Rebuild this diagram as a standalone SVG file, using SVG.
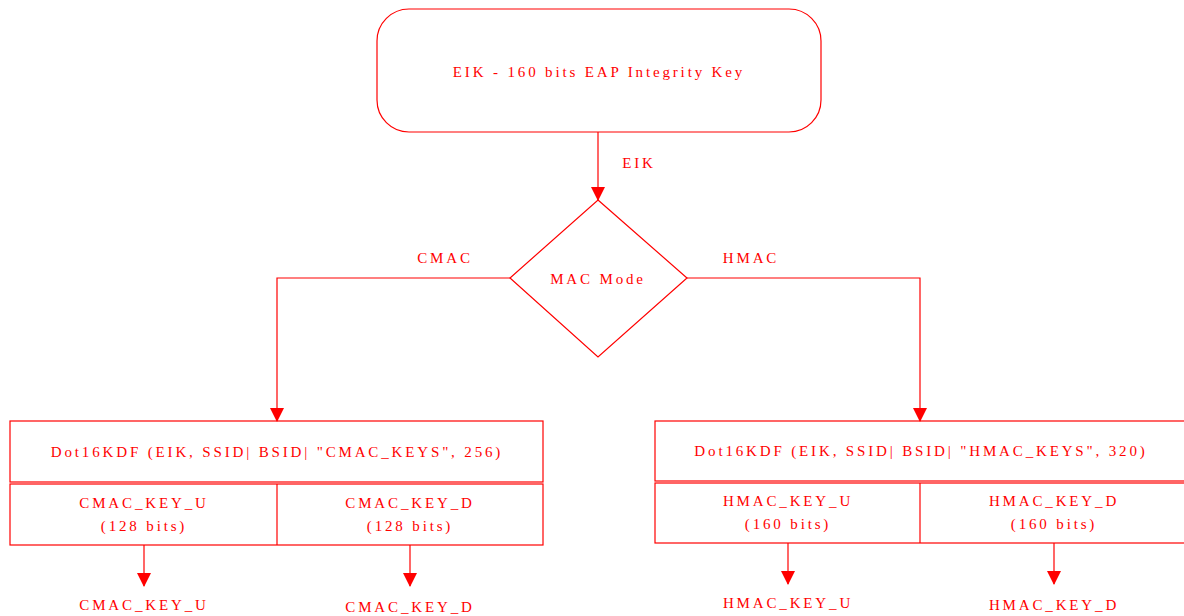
<svg xmlns="http://www.w3.org/2000/svg" width="1184" height="616" viewBox="0 0 1184 616">
<style>
.s{fill:none;stroke:#ff0000;stroke-width:1.2}
.t{font-family:"Liberation Serif","Times New Roman",serif;font-size:15px;fill:#ff0000;text-anchor:middle;letter-spacing:2.85px}
</style>
<defs>
<marker id="a" markerWidth="14" markerHeight="14" refX="13" refY="7" orient="auto" markerUnits="userSpaceOnUse">
<path d="M0,0 L14,7 L0,14 Z" fill="#ff0000"/>
</marker>
</defs>
<rect width="1184" height="616" fill="#ffffff"/>
<g id="eik">
<rect class="s" x="377" y="9" width="444" height="123" rx="32" ry="32"/>
<text class="t" x="599" y="77">EIK -  160 bits EAP Integrity Key</text>
</g>
<g id="macmode">
<polygon class="s" points="598,200 687,278 598,357 510,278"/>
<text class="t" x="598" y="284">MAC Mode</text>
</g>
<g id="cmac">
<rect class="s" x="10" y="421" width="533" height="61"/>
<text class="t" x="277" y="457">Dot16KDF (EIK, SSID| BSID| "CMAC_KEYS", 256)</text>
<rect class="s" x="10" y="484" width="533" height="61"/>
<line class="s" x1="277" y1="484" x2="277" y2="545"/>
<text class="t" x="144" y="508">CMAC_KEY_U</text>
<text class="t" x="144" y="531">(128 bits)</text>
<text class="t" x="410" y="508">CMAC_KEY_D</text>
<text class="t" x="410" y="531">(128 bits)</text>
</g>
<g id="hmac">
<rect class="s" x="655" y="421" width="540" height="60"/>
<text class="t" x="921" y="456">Dot16KDF (EIK, SSID| BSID| "HMAC_KEYS", 320)</text>
<rect class="s" x="655" y="483" width="540" height="60"/>
<line class="s" x1="920" y1="483" x2="920" y2="543"/>
<text class="t" x="788" y="506">HMAC_KEY_U</text>
<text class="t" x="788" y="529">(160 bits)</text>
<text class="t" x="1054" y="506">HMAC_KEY_D</text>
<text class="t" x="1054" y="529">(160 bits)</text>
</g>
<g id="out-cu"><text class="t" x="144" y="610">CMAC_KEY_U</text></g>
<g id="out-cd"><text class="t" x="410" y="612">CMAC_KEY_D</text></g>
<g id="out-hu"><text class="t" x="788" y="608">HMAC_KEY_U</text></g>
<g id="out-hd"><text class="t" x="1054" y="610">HMAC_KEY_D</text></g>
<g id="connectors">
<line class="s" x1="598" y1="132" x2="598" y2="200" marker-end="url(#a)"/>
<text class="t" x="639" y="168">EIK</text>
<polyline class="s" points="510,278 277,278 277,421" marker-end="url(#a)"/>
<text class="t" x="445" y="263">CMAC</text>
<polyline class="s" points="687,278 920,278 920,421" marker-end="url(#a)"/>
<text class="t" x="751" y="263">HMAC</text>
<line class="s" x1="144" y1="545" x2="144" y2="586" marker-end="url(#a)"/>
<line class="s" x1="410" y1="545" x2="410" y2="586" marker-end="url(#a)"/>
<line class="s" x1="788" y1="543" x2="788" y2="584" marker-end="url(#a)"/>
<line class="s" x1="1054" y1="543" x2="1054" y2="584" marker-end="url(#a)"/>
</g>
</svg>
